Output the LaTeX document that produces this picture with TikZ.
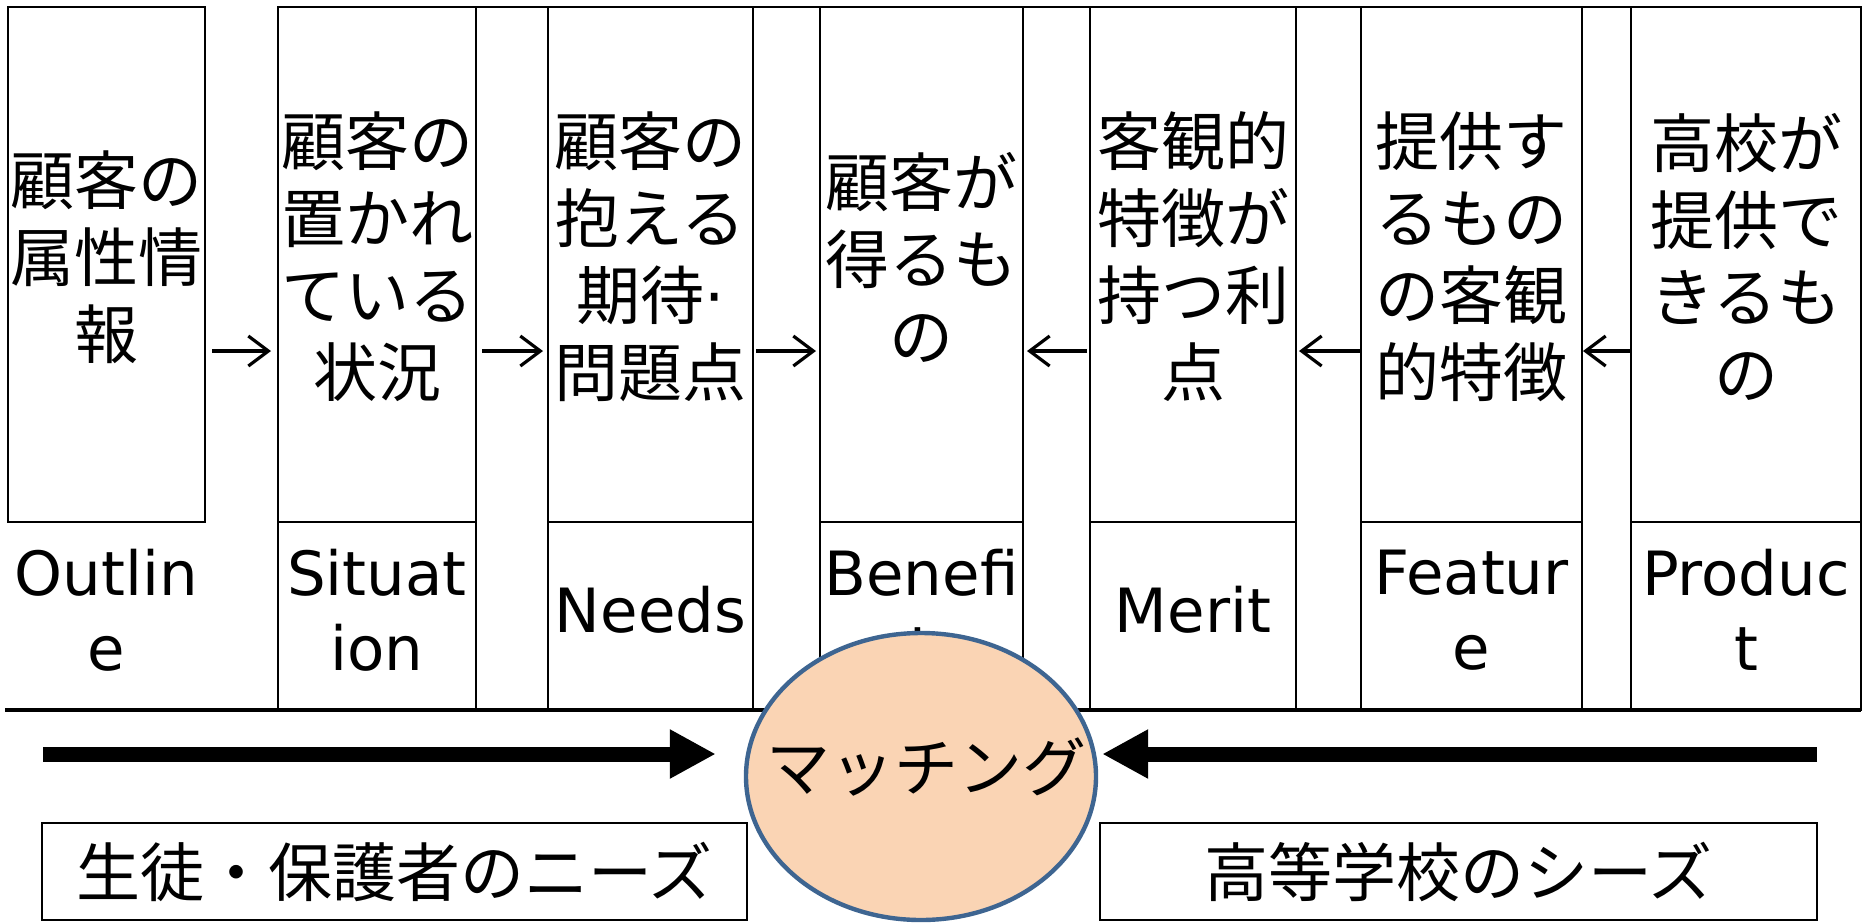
\documentclass[tikz,border=0pt]{standalone}
\usepackage{fontspec}
\setmainfont{DejaVu Sans}
\newfontfamily\cjk{Noto Sans CJK JP}
\newfontfamily\lat{DejaVu Sans}
\usetikzlibrary{shapes.geometric,arrows.meta}
\definecolor{peach}{HTML}{FAD4B4}
\definecolor{rim}{HTML}{3E6591}
\begin{document}
\begin{tikzpicture}[x=0.5pt,y=-0.5pt,
  cell/.style={draw, line width=1.2pt, inner sep=0pt, outer sep=0pt},
  jp/.style={font=\cjk\fontsize{32}{38.5}\selectfont, align=center, inner sep=0pt},
  en/.style={font=\fontsize{30.5}{37.5}\selectfont, align=center, inner sep=0pt},
  small/.style={line width=1.6pt, -{Straight Barb[length=10pt,width=15pt]}},
  big/.style={line width=7.5pt, -{Triangle[length=23pt,width=23pt]}},
  box/.style={draw, line width=0.8pt, inner sep=0pt, outer sep=0pt, minimum height=48.5pt,
    font=\cjk\fontsize{32}{38.5}\selectfont}]
\useasboundingbox (0,0) rectangle (1865,923);
% top cells
\node[cell, minimum width=98.5pt, minimum height=257.5pt] (a1) at (106.5,264.5) {};
\node[cell, minimum width=99pt,   minimum height=257.5pt] (a2) at (377,264.5) {};
\node[cell, minimum width=102.5pt,minimum height=257.5pt] (a3) at (650.5,264.5) {};
\node[cell, minimum width=101.5pt,minimum height=257.5pt] (a4) at (921.5,264.5) {};
\node[cell, minimum width=103pt,  minimum height=257.5pt] (a5) at (1193,264.5) {};
\node[cell, minimum width=110.5pt,minimum height=257.5pt] (a6) at (1471.5,264.5) {};
\node[cell, minimum width=115pt,  minimum height=257.5pt] (a7) at (1746,264.5) {};
% bottom cells
\node[cell, minimum width=99pt,   minimum height=94pt] (b2) at (377,616) {};
\node[cell, minimum width=102.5pt,minimum height=94pt] (b3) at (650.5,616) {};
\node[cell, minimum width=101.5pt,minimum height=94pt] (b4) at (921.5,616) {};
\node[cell, minimum width=103pt,  minimum height=94pt] (b5) at (1193,616) {};
\node[cell, minimum width=110.5pt,minimum height=94pt] (b6) at (1471.5,616) {};
\node[cell, minimum width=115pt,  minimum height=94pt] (b7) at (1746,616) {};
% long lines
\draw[line width=1.2pt] (a2.north west) -- (a7.north east);
\draw[line width=1.6pt] (5,710) -- (b7.south east);
% texts
\node[jp] (t1) at (106.5,257) {顧客の\\属性情\\報};
\node[jp] (t2) at (377,257) {顧客の\\置かれ\\ている\\状況};
\node[jp] (t3) at (650.5,257) {顧客の\\抱える\\期待{\lat ·}\\問題点};
\node[jp] (t4) at (921.5,257) {顧客が\\得るも\\の};
\node[jp] (t5) at (1193,257) {客観的\\特徴が\\持つ利\\点};
\node[jp] (t6) at (1471.5,257) {提供す\\るもの\\の客観\\的特徴};
\node[jp] (t7) at (1746,257) {高校が\\提供で\\きるも\\の};
\node[en] (e1) at (106.5,610) {Outlin\\e};
\node[en] (e2) at (377,610) {Situat\\ion};
\node[en] (e3) at (650.5,610) {Needs};
\node[en] (e4) at (921.5,610) {Benefi\\t};
\node[en] (e5) at (1193,610) {Merit};
\node[en] (e6) at (1471.5,610) {Featur\\e};
\node[en] (e7) at (1746,610) {Produc\\t};
% small arrows
\draw[small, shorten <=3.5pt, shorten >=3.5pt] ([yshift=-43.25pt]a1.east) -- ([yshift=-43.25pt]a2.west);
\draw[small, shorten <=3pt, shorten >=2.5pt] ([yshift=-43.25pt]a2.east) -- ([yshift=-43.25pt]a3.west);
\draw[small, shorten <=1.5pt, shorten >=2pt] ([yshift=-43.25pt]a3.east) -- ([yshift=-43.25pt]a4.west);
\draw[small, shorten <=1.5pt, shorten >=2pt] ([yshift=-43.25pt]a5.west) -- ([yshift=-43.25pt]a4.east);
\draw[small, shorten <=0pt, shorten >=1.5pt] ([yshift=-43.25pt]a6.west) -- ([yshift=-43.25pt]a5.east);
\draw[small, shorten <=0.5pt, shorten >=0.5pt] ([yshift=-43.25pt]a7.west) -- ([yshift=-43.25pt]a6.east);
% bottom boxes
\node[box, minimum width=352.5pt] (nl) at (394.5,871.5) {生徒・保護者のニーズ};
\node[box, minimum width=358.5pt] (nr) at (1458.5,871.5) {高等学校のシーズ};
% ellipse
\node[ellipse, draw=rim, fill=peach, line width=2.2pt, minimum width=175pt, minimum height=143.5pt, inner sep=0pt] (m) at (921,776.5) {};
\node[jp] (mt) at (926,767) {マッチング};
% big arrows
\coordinate (la) at (43,754);
\coordinate (ra) at (1817,754);
\draw[big, shorten >=14pt] (la) -- (la -| m.west);
\draw[big, shorten >=2pt] (ra) -- (ra -| m.east);
\end{tikzpicture}
\end{document}
